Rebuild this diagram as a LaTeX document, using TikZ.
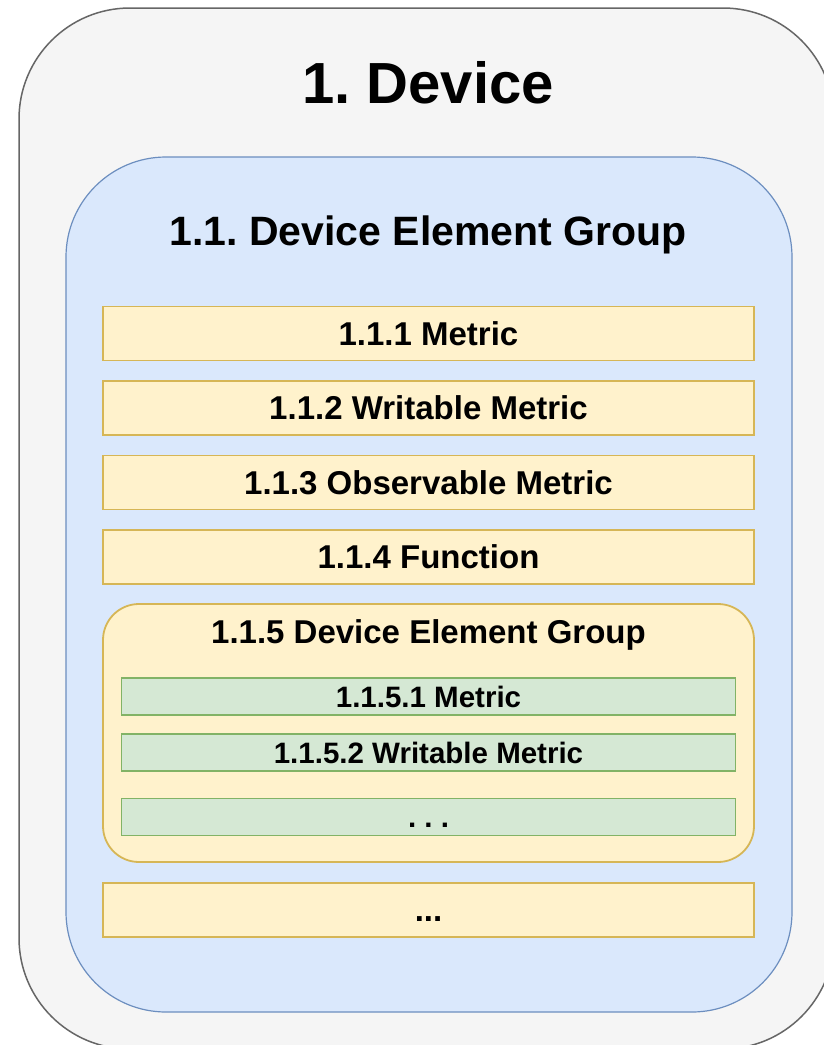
\documentclass[tikz,border=0pt]{standalone}
\usepackage{fontspec}
\setmainfont{Liberation Sans}
\frenchspacing
\definecolor{devfill}{HTML}{F5F5F5}
\definecolor{devline}{HTML}{666666}
\definecolor{grpfill}{HTML}{DAE8FC}
\definecolor{grpline}{HTML}{6C8EBF}
\definecolor{itemfill}{HTML}{FFF2CC}
\definecolor{itemline}{HTML}{D6B656}
\definecolor{subfill}{HTML}{D5E8D4}
\definecolor{subline}{HTML}{82B366}

\begin{document}
\begin{tikzpicture}[x=1pt,y=-1pt,
		item/.style={draw=itemline,fill=itemfill,line width=1.8pt,minimum width=651pt,minimum height=54pt,inner sep=0pt,
			font=\fontsize{33}{33}\selectfont\bfseries,text height=23.6pt,text depth=0pt},
		subitem/.style={draw=subline,fill=subfill,line width=1.8pt,minimum width=614pt,minimum height=37pt,inner sep=0pt,
			font=\fontsize{29.5}{30}\selectfont\bfseries,text height=21.1pt,text depth=0pt}]
		\useasboundingbox (0,0) rectangle (823,1045);

		% outer device box
		\draw[fill=devfill,draw=devline,line width=1.5pt,rounded corners=111pt] (19,8) rectangle (834,1049);
		\node[anchor=base,font=\fontsize{58}{60}\selectfont\bfseries] (device) at (428,103) {1. Device};

		% element group
		\draw[fill=grpfill,draw=grpline,line width=1.2pt,rounded corners=100pt] (66,157) rectangle (792,1012);
		\node[anchor=base,font=\fontsize{41}{42}\selectfont\bfseries] (group) at (428,245) {1.1. Device Element Group};

		\node[item] (metric) at (428.5,333.5) {1.1.1 Metric};
		\node[item] (writable) at (428.5,408) {1.1.2 Writable Metric};
		\node[item] (observable) at (428.5,482.5) {1.1.3 Observable Metric};
		\node[item] (function) at (428.5,557) {1.1.4 Function};

		% nested group
		\draw[fill=itemfill,draw=itemline,line width=1.8pt,rounded corners=36pt] (103,604) rectangle (754,862);
		\node[anchor=base,font=\fontsize{33}{33}\selectfont\bfseries] (subgroup) at (428.5,643) {1.1.5 Device Element Group};
		\node[subitem] (submetric) at (428.5,696.5) {1.1.5.1 Metric};
		\node[subitem] (subwritable) at (428.5,752.5) {1.1.5.2 Writable Metric};
		\node[subitem] (subdots) at (428.5,817) {. . .};

		\node[item] (dots) at (428.5,910) {...};
	\end{tikzpicture}
\end{document}
